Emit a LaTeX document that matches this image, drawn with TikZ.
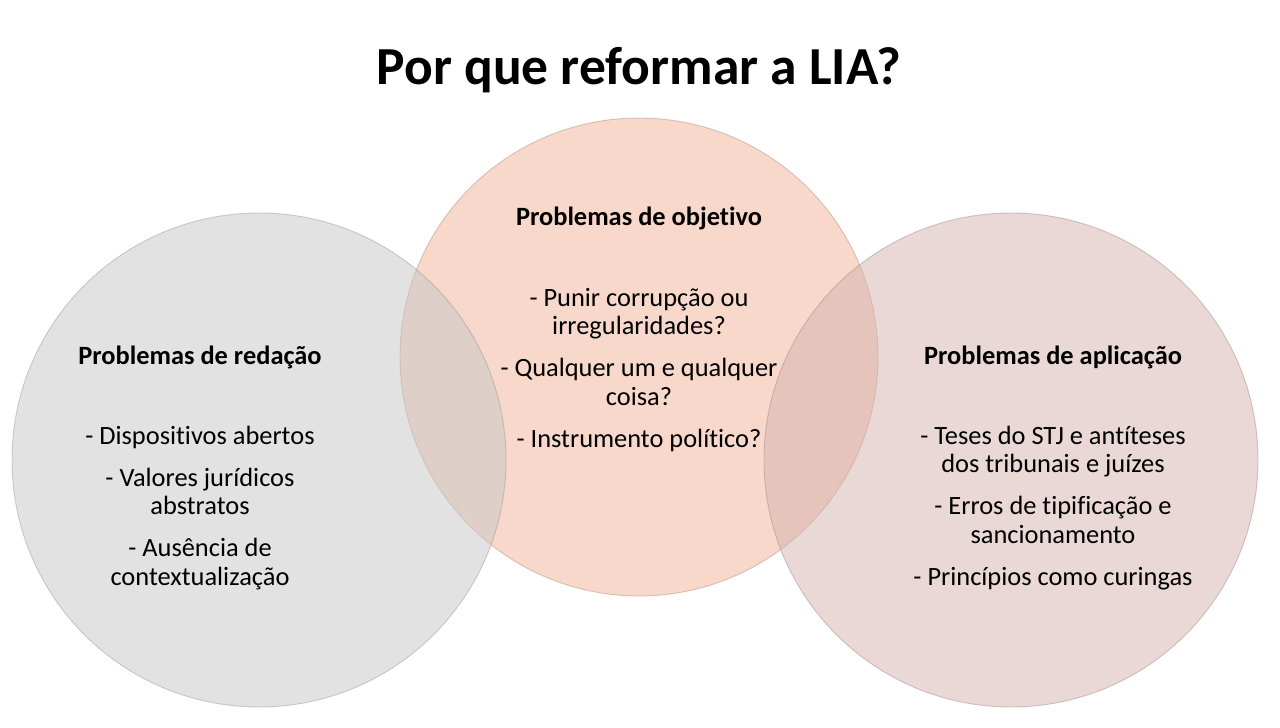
\documentclass[tikz,border=0pt]{standalone}
\usepackage{fontspec}
\setmainfont[Ligatures=NoCommon]{Carlito}
\definecolor{redgray}{HTML}{C7C7C7}
\definecolor{objsalmon}{HTML}{F1B399}
\definecolor{aplrose}{HTML}{D5B3AD}
\tikzset{
	venn/.style={fill opacity=0.5, draw opacity=0.4, line width=0.9pt},
	head/.style={inner sep=0pt, font=\fontsize{26.4}{28.5}\selectfont\bfseries, align=center},
	items/.style={inner sep=0pt, font=\fontsize{26.4}{28.5}\selectfont, align=center},
}

\begin{document}
\begin{tikzpicture}[x=1pt, y=-1pt]
			%%%%% START %%%%%
			
			\useasboundingbox[fill=white] (0, 0) rectangle (1280, 728);
			
			\node[inner sep=0pt, font=\fontsize{53.5}{60}\selectfont\bfseries] (title) at (639, 70) {Por que reformar a LIA?};
			
			\coordinate (cobj) at (639, 357);
			\coordinate (cred) at (259, 460);
			\coordinate (capl) at (1011, 460);
			
			\draw[venn, fill=objsalmon, draw=objsalmon!70!black] (cobj) circle (239pt);
			\draw[venn, fill=redgray, draw=redgray!70!black] (cred) circle (247pt);
			\draw[venn, fill=aplrose, draw=aplrose!70!black] (capl) circle (247pt);
			
			\node[head] (objhead) at (639, 218) {Problemas de objetivo};
			\node[items] (objitems) at (639, 370) {- Punir corrupção ou\\irregularidades?\\[13.5pt]- Qualquer um e qualquer\\coisa?\\[13.5pt]- Instrumento político?};
			
			\node[head] (redhead) at (200, 357) {Problemas de redação};
			\node[items] (reditems) at (200, 508) {- Dispositivos abertos\\[13.5pt]- Valores jurídicos\\abstratos\\[13.5pt]- Ausência de\\contextualização};
			
			\node[head] (aplhead) at (1053, 357) {Problemas de aplicação};
			\node[items] (aplitems) at (1053, 508) {- Teses do STJ e antíteses\\dos tribunais e juízes\\[13.5pt]- Erros de tipificação e\\sancionamento\\[13.5pt]- Princípios como curingas};
			
			%%%%% END %%%%%
\end{tikzpicture}
\end{document}
